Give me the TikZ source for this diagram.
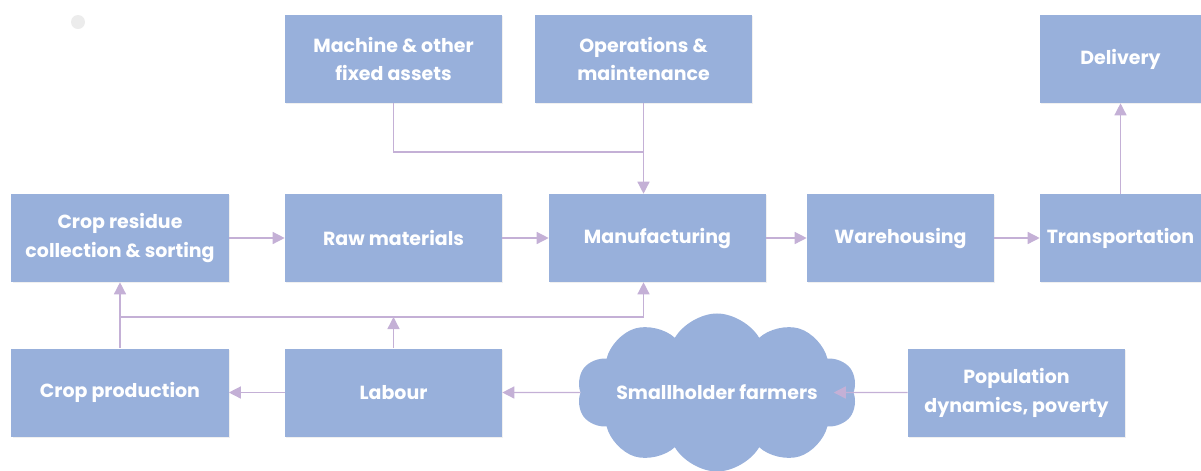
\documentclass[tikz,border=0pt]{standalone}
\usepackage{fontspec}
\setmainfont{Poppins}
\usetikzlibrary{arrows.meta,shapes.symbols,shadows}
\definecolor{boxblue}{RGB}{152,176,219}
\definecolor{arrlilac}{RGB}{196,176,214}
\tikzset{
  blk/.style={rectangle,fill=boxblue,text=white,align=center,inner sep=2pt,
    font=\bfseries\fontsize{13.5}{20.5}\selectfont,
    minimum width=5.425cm,minimum height=2.2cm,
    drop shadow={opacity=0.12,shadow xshift=1pt,shadow yshift=-1pt}},
  lnk/.style={draw=arrlilac,line width=1pt},
  arr/.style={lnk,-{Triangle[length=0.3cm,width=0.3cm]}}
}
\begin{document}
\begin{tikzpicture}[x=0.025cm,y=-0.025cm]
  \useasboundingbox (0,0) rectangle (1201,470);
  \fill[gray!15] (78,22) circle (7);
  % top row
  \node[blk] (mach) at (393.5,59) {Machine \& other\\fixed assets};
  \node[blk] (ops) at (643.5,59) {Operations \&\\maintenance};
  \node[blk,minimum width=4.025cm] (deliv) at (1120.5,59) {Delivery};
  % middle row
  \node[blk] (cres) at (120,238) {Crop residue\\collection \& sorting};
  \node[blk] (raw) at (393.5,238) {Raw materials};
  \node[blk] (manu) at (657.5,238) {Manufacturing};
  \node[blk,minimum width=4.675cm] (ware) at (900.5,238) {Warehousing};
  \node[blk,minimum width=4.025cm] (trans) at (1120.5,238) {Transportation};
  % bottom row
  \node[blk] (cprod) at (120,392.5) {Crop production};
  \node[blk] (labour) at (393.5,392.5) {Labour};
  \node[cloud,cloud puffs=10,cloud puff arc=120,aspect=1.75,fill=boxblue,text=white,
    inner sep=0pt,minimum width=7cm,minimum height=3.95cm,
    font=\bfseries\fontsize{13.5}{20.5}\selectfont] (farm) at (717,392.5)
    {\makebox[0pt]{Smallholder farmers}};
  \node[blk] (pop) at (1016.5,392.5) {Population\\dynamics, poverty};
  % junctions
  \coordinate (top) at (0,152);
  \coordinate (low) at (0,317);
  \draw[lnk] (mach.south) |- (ops.south |- top);
  \draw[arr] (ops.south) -- (ops.south |- manu.north);
  \draw[arr] (cres.east) -- (raw.west);
  \draw[arr] (raw.east) -- (manu.west);
  \draw[arr] (manu.east) -- (ware.west);
  \draw[arr] (ware.east) -- (trans.west);
  \draw[arr] (trans.north) -- (deliv.south);
  \draw[arr] (cprod.north) -- (cres.south);
  \draw[arr] (cres.south |- low) -| (ops.south |- manu.south);
  \draw[arr] (labour.north) -- (labour.north |- low);
  \draw[arr] (labour.west) -- (cprod.east);
  \draw[arr] (farm.west) -- (labour.east);
  \draw[arr,shorten >=-0.5cm] (pop.west) -- (farm.east);
\end{tikzpicture}
\end{document}
